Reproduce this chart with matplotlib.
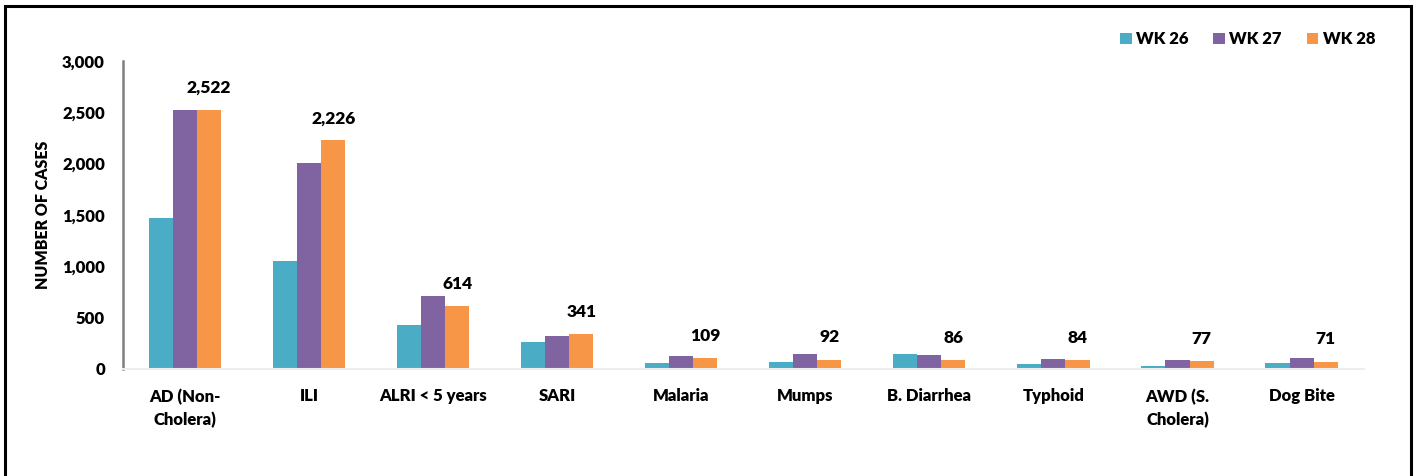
import numpy as np
import matplotlib.pyplot as plt
from matplotlib.patches import Rectangle

plt.rcParams['font.family'] = ['Lato', 'DejaVu Sans']
plt.rcParams['font.weight'] = 'bold'

# data
categories = ['AD (Non-\nCholera)', 'ILI', 'ALRI < 5 years', 'SARI', 'Malaria',
              'Mumps', 'B. Diarrhea', 'Typhoid', 'AWD (S.\nCholera)', 'Dog Bite']
wk26 = [1470, 1055, 428, 263, 58, 71, 146, 46, 29, 58]
wk27 = [2525, 2005, 714, 321, 127, 143, 133, 94, 85, 104]
wk28 = [2522, 2226, 614, 341, 109, 92, 86, 84, 77, 71]
series_names = ['WK 26', 'WK 27', 'WK 28']
colors = ['#4BACC6', '#8064A2', '#F79646']
yticks = [0, 500, 1000, 1500, 2000, 2500, 3000]

fig = plt.figure(figsize=(14.17, 4.76), dpi=100)
ax = fig.add_axes([0.0868, 0.2248, 0.8755, 0.6470])

x = np.arange(len(categories))
w = 0.194
for i, (vals, name, c) in enumerate(zip([wk26, wk27, wk28], series_names, colors)):
    bars = ax.bar(x + (i - 1) * w, vals, width=w, color=c, label=name, zorder=2)
    if i == 2:
        for b, v in zip(bars, vals):
            ax.annotate('{:,}'.format(v), (b.get_x() + b.get_width() / 2, v),
                        xytext=(0, 16), textcoords='offset points',
                        ha='center', va='center', fontsize=12.5, fontweight='heavy')

ax.set_xlim(-0.5, len(categories) - 0.5)
ax.set_ylim(0, 3000)
ax.set_yticks(yticks)
ax.set_yticklabels(['{:,}'.format(t) for t in yticks], fontsize=12, fontweight='heavy')
ax.set_xticks(x)
ax.set_xticklabels(categories, fontsize=12, fontweight='heavy', linespacing=1.5)
ax.tick_params(axis='both', length=0)
ax.tick_params(axis='x', pad=14)
ax.tick_params(axis='y', pad=13)
ax.set_ylabel('NUMBER OF CASES', fontsize=11.5, fontweight='heavy', labelpad=8)

for s in ['top', 'right']:
    ax.spines[s].set_visible(False)
ax.spines['left'].set_color('#7F7F7F')
ax.spines['left'].set_linewidth(1.8)
ax.spines['bottom'].set_color('#EDEDED')
ax.spines['bottom'].set_linewidth(1.5)

leg = fig.legend(loc='upper right', bbox_to_anchor=(0.981, 0.966), ncol=3, frameon=False,
                 fontsize=12, handlelength=0.7, handleheight=0.7, handletextpad=0.25,
                 columnspacing=1.5)
for t in leg.get_texts():
    t.set_fontweight('heavy')

# outer frame (bottom edge falls outside the image)
fig.patches.append(Rectangle((5 / 1417, -0.05), (1411 - 5) / 1417, 1.05 - 6 / 476,
                             transform=fig.transFigure, fill=False,
                             edgecolor='black', linewidth=2.2))

fig.savefig('out.png', dpi=100)
